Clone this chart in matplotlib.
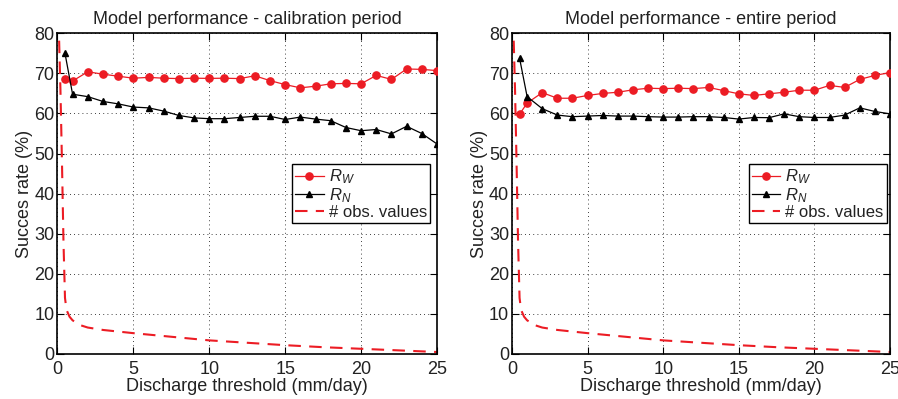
import matplotlib
matplotlib.use("Agg")
import matplotlib.pyplot as plt

plt.rcParams['font.family'] = ['Liberation Sans', 'DejaVu Sans']
plt.rcParams['mathtext.fontset'] = 'custom'
plt.rcParams['mathtext.it'] = 'Liberation Sans:italic'
plt.rcParams['mathtext.rm'] = 'Liberation Sans'

# ---- data ----
thresholds = [0.5] + list(range(1, 26))

calib_rw = [68.7, 68.1, 70.4, 69.8, 69.3, 68.8, 69.0, 68.8, 68.7, 68.8, 68.75, 68.8, 68.7,
            69.4, 68.2, 67.2, 66.4, 66.8, 67.4, 67.5, 67.4, 69.5, 68.5, 71.1, 71.0, 70.7]
calib_rn = [75.0, 64.8, 64.2, 63.0, 62.4, 61.6, 61.4, 60.6, 59.5, 58.9, 58.7, 58.7, 59.0,
            59.3, 59.3, 58.5, 59.1, 58.6, 58.2, 56.5, 55.7, 56.0, 54.9, 56.8, 55.0, 52.4]

entire_rw = [59.8, 62.6, 65.2, 63.8, 63.8, 64.5, 65.0, 65.3, 65.9, 66.3, 66.2, 66.3, 66.2,
             66.5, 65.7, 64.9, 64.5, 64.9, 65.3, 65.8, 65.8, 67.0, 66.5, 68.5, 69.5, 70.2]
entire_rn = [73.8, 64.2, 61.2, 59.6, 59.2, 59.35, 59.5, 59.35, 59.35, 59.2, 59.1, 59.1, 59.2,
             59.2, 59.0, 58.6, 59.0, 58.95, 59.9, 59.2, 59.0, 59.0, 59.6, 61.4, 60.5, 59.9]

obs_x = [0.05, 0.1, 0.2, 0.3, 0.4, 0.5, 0.6, 0.8, 1.0, 1.5, 2, 3, 4, 5, 7.5, 10,
         12.5, 15, 17.5, 20, 22.5, 25]
obs_y = [100, 80, 66, 48, 28, 14, 11, 9.3, 8.4, 7.2, 6.6, 6.0, 5.6, 5.2, 4.3, 3.4,
         2.8, 2.2, 1.7, 1.3, 0.9, 0.5]

titles = ["Model performance - calibration period", "Model performance - entire period"]
xticks = [0, 5, 10, 15, 20, 25]
yticks = [0, 10, 20, 30, 40, 50, 60, 70, 80]

RED = '#ec1c24'
TXT = '#222222'
FS = 13

fig = plt.figure(figsize=(8.98, 3.99), dpi=100)
W, H = 898, 399
axes_px = [(57.4, 437.0), (512.0, 890.0)]
top_px, bot_px = 33.3, 354.0
legend_x = [0.982, 0.992]

panels = [(calib_rw, calib_rn), (entire_rw, entire_rn)]

for i, ((x0, x1), (rw, rn)) in enumerate(zip(axes_px, panels)):
    ax = fig.add_axes([x0 / W, 1 - bot_px / H, (x1 - x0) / W, (bot_px - top_px) / H])
    ax.plot(thresholds, rw, '-o', color=RED, lw=0.9, ms=5.2, mfc=RED, mec=RED,
            label='$R_W$', zorder=3)
    ax.plot(thresholds, rn, '-^', color='black', lw=0.9, ms=5.0, mfc='black', mec='black',
            label='$R_N$', zorder=3)
    ax.plot(obs_x, obs_y, '--', color=RED, lw=1.5, dashes=(6, 4), label='# obs. values',
            zorder=2)
    ax.set_xlim(0, 25)
    ax.set_ylim(0, 80)
    ax.set_xticks(xticks)
    ax.set_yticks(yticks)
    ax.grid(True, color='black', linestyle=(0, (1, 4)), linewidth=0.6)
    ax.tick_params(direction='in', length=5, width=0.8, top=True, right=True,
                   labelsize=FS, colors='black', labelcolor=TXT)
    ax.tick_params(axis='x', pad=5)
    ax.tick_params(axis='y', pad=2)
    for s in ax.spines.values():
        s.set_linewidth(1.2)
        s.set_color('black')
    ax.set_title(titles[i], fontsize=FS, color=TXT, pad=7)
    ax.set_xlabel('Discharge threshold (mm/day)', fontsize=FS, color=TXT, labelpad=0)
    ax.set_ylabel('Succes rate (%)', fontsize=FS, color=TXT, labelpad=1)
    leg = ax.legend(loc='center right', bbox_to_anchor=(legend_x[i], 0.5),
                    borderaxespad=0, fontsize=12, frameon=True, fancybox=False,
                    edgecolor='black', framealpha=1, labelspacing=-0.02,
                    handlelength=1.7, handletextpad=0.3, borderpad=0.2)
    leg.get_frame().set_linewidth(1.0)
    for t in leg.get_texts():
        t.set_color(TXT)

fig.savefig('out.png', dpi=100)
